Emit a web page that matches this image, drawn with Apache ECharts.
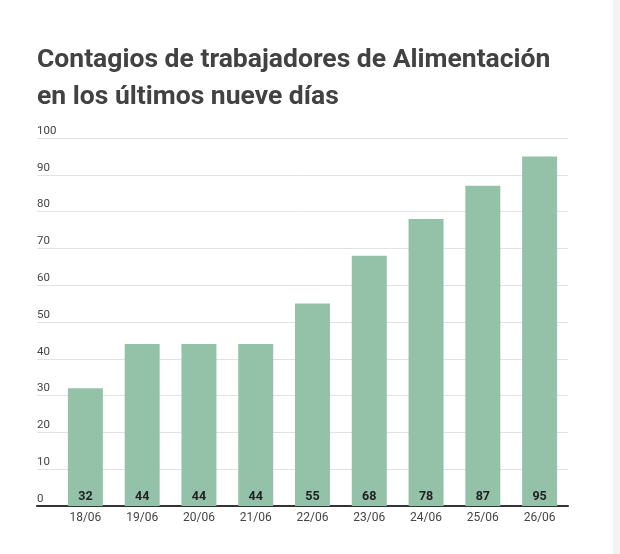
<!DOCTYPE html>
<html>
<head>
<meta charset="utf-8">
<script src="https://cdn.jsdelivr.net/npm/echarts@6/dist/echarts.min.js"></script>
<style>
html,body{margin:0;padding:0;background:#fff;}
#strip{position:absolute;left:613px;top:0;width:7px;height:554px;background:#f3f3f3;}
#main{position:absolute;left:0;top:0;width:620px;height:554px;}
</style>
</head>
<body>
<div id="strip"></div>
<div id="main"></div>
<script>
const categories = ['18/06','19/06','20/06','21/06','22/06','23/06','24/06','25/06','26/06'];
const values = [32,44,44,44,55,68,78,87,95];
const titleText = 'Contagios de trabajadores de Alimentación\nen los últimos nueve días';

const chart = echarts.init(document.getElementById('main'), null, {renderer:'canvas'});
chart.setOption({
  animation:false,
  backgroundColor:'transparent',
  title:{
    text:titleText,
    left:32, top:37, padding:5,
    textStyle:{fontFamily:'Roboto', fontWeight:'bold', fontSize:26.5, color:'#424242', lineHeight:37}
  },
  grid:[
    {left:37, right:52, top:138, bottom:48, containLabel:false},
    {left:57, right:52, top:138, bottom:48, containLabel:false}
  ],
  xAxis:[
    {type:'category', gridIndex:0, data:categories,
     axisLine:{show:true, lineStyle:{color:'#333', width:2}},
     axisTick:{show:false}, axisLabel:{show:false}, splitLine:{show:false}},
    {type:'category', gridIndex:1, data:categories,
     axisLine:{show:false}, axisTick:{show:false},
     axisLabel:{show:true, color:'#444', fontFamily:'Roboto', fontSize:12, margin:6}}
  ],
  yAxis:[
    {type:'value', gridIndex:0, min:0, max:100, interval:10,
     axisLine:{show:false}, axisTick:{show:false},
     splitLine:{lineStyle:{color:'#e2e2e2', width:1}},
     axisLabel:{inside:true, color:'#444', fontFamily:'Roboto', fontSize:11.5,
       verticalAlign:'bottom', margin:0, padding:[0,0,1,0]}},
    {type:'value', gridIndex:1, min:0, max:100, interval:10, show:false}
  ],
  series:[{
    type:'bar', xAxisIndex:1, yAxisIndex:1, data:values,
    barWidth:35,
    itemStyle:{color:'#94c2a8'},
    label:{show:true, position:'insideBottom', distance:3,
      color:'#222', fontFamily:'Roboto', fontWeight:'bold', fontSize:12.5}
  }]
});
</script>
</body>
</html>
